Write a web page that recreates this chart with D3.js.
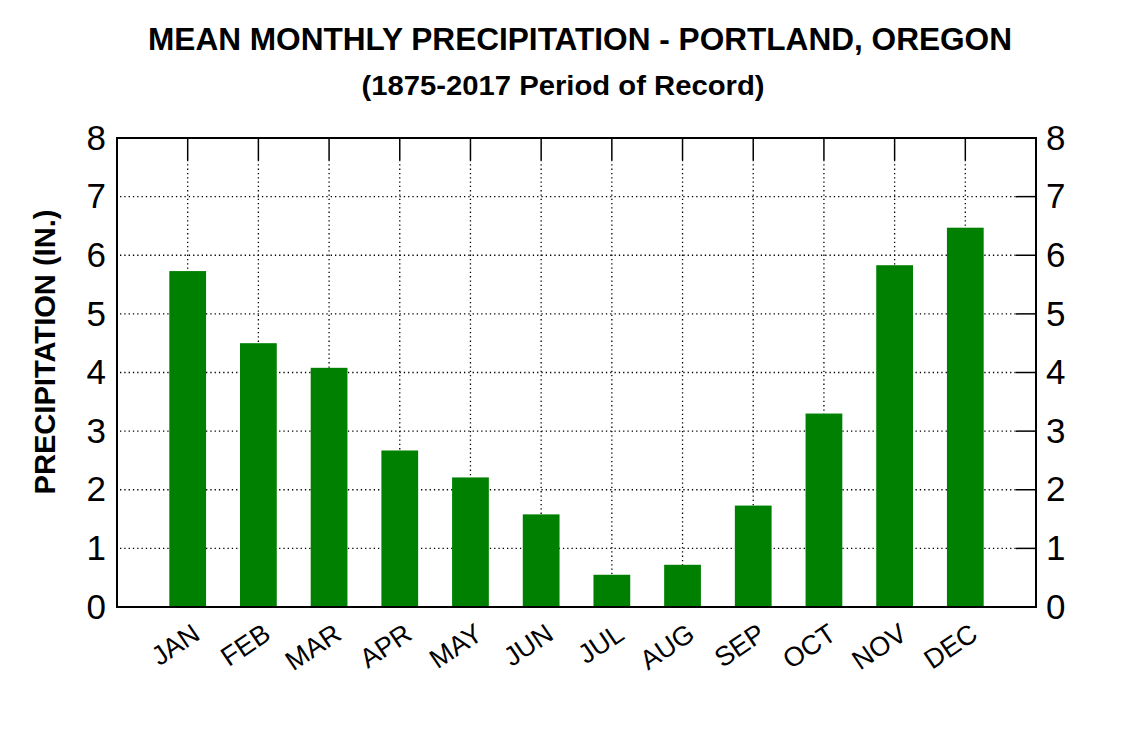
<!DOCTYPE html>
<html>
<head>
<meta charset="utf-8">
<script src="https://cdn.jsdelivr.net/npm/d3@7"></script>
<style>
html,body{margin:0;padding:0;background:#fff;}
svg{display:block;font-family:"Liberation Sans",Arial,sans-serif;}
</style>
</head>
<body>
<svg id="chart" width="1124" height="732"></svg>
<script>
const months = ["JAN","FEB","MAR","APR","MAY","JUN","JUL","AUG","SEP","OCT","NOV","DEC"];
const precip = [5.73,4.50,4.08,2.67,2.21,1.58,0.55,0.72,1.73,3.30,5.83,6.47];
const yTicks = [0,1,2,3,4,5,6,7,8];
const titleText = "MEAN MONTHLY PRECIPITATION - PORTLAND, OREGON";
const subtitleText = "(1875-2017 Period of Record)";
const yLabel = "PRECIPITATION (IN.)";

const svg = d3.select("#chart");
const L = 117, R = 1036, T = 138, B = 607;

const x = d3.scalePoint().domain(months).range([L, R]).padding(1);
const y = d3.scaleLinear().domain([0, 8]).range([B, T]);
const barW = x.step() * 0.52;

// grid: horizontal dotted
const g = svg.append("g");
g.selectAll(".hg").data(yTicks.filter(d => d > 0 && d < 8)).join("line")
  .attr("x1", L + 3).attr("x2", R - 20)
  .attr("y1", d => y(d)).attr("y2", d => y(d))
  .attr("stroke", "#000").attr("stroke-width", 1.3).attr("stroke-dasharray", "1.3,3");
// right solid ticks
g.selectAll(".rt").data(yTicks.filter(d => d > 0 && d < 8)).join("line")
  .attr("x1", R - 20).attr("x2", R)
  .attr("y1", d => y(d)).attr("y2", d => y(d))
  .attr("stroke", "#000").attr("stroke-width", 1.5);
// vertical dotted
g.selectAll(".vg").data(months).join("line")
  .attr("x1", d => x(d)).attr("x2", d => x(d))
  .attr("y1", T + 22).attr("y2", B)
  .attr("stroke", "#000").attr("stroke-width", 1.3).attr("stroke-dasharray", "1.3,3");
// top solid ticks
g.selectAll(".tt").data(months).join("line")
  .attr("x1", d => x(d)).attr("x2", d => x(d))
  .attr("y1", T).attr("y2", T + 22)
  .attr("stroke", "#000").attr("stroke-width", 1.5);

// bars
svg.append("g").selectAll("rect").data(months).join("rect")
  .attr("x", (d) => x(d) - barW / 2)
  .attr("width", barW)
  .attr("y", (d, i) => y(precip[i]))
  .attr("height", (d, i) => B - y(precip[i]))
  .attr("fill", "#008000");

// frame
svg.append("rect").attr("x", L).attr("y", T).attr("width", R - L).attr("height", B - T)
  .attr("fill", "none").attr("stroke", "#000").attr("stroke-width", 2);

// y axes via d3 axes (labels only)
const leftAxis = d3.axisLeft(y).tickValues(yTicks).tickSize(0).tickPadding(11).tickFormat(d3.format("d"));
const rightAxis = d3.axisRight(y).tickValues(yTicks).tickSize(0).tickPadding(10).tickFormat(d3.format("d"));
const la = svg.append("g").attr("transform", `translate(${L},0)`).call(leftAxis);
const ra = svg.append("g").attr("transform", `translate(${R},0)`).call(rightAxis);
[la, ra].forEach(a => {
  a.select(".domain").remove();
  a.selectAll("text").attr("font-size", 35).attr("fill", "#000")
    .attr("font-family", "Liberation Sans, Arial, sans-serif");
});

// x labels
const xa = svg.append("g");
xa.selectAll("text").data(months).join("text")
  .attr("transform", d => `translate(${x(d) + 14},${B + 31}) rotate(-34)`)
  .attr("text-anchor", "end")
  .attr("font-size", 27)
  .attr("fill", "#000")
  .text(d => d);

// titles
svg.append("text").attr("x", 580).attr("y", 50).attr("text-anchor", "middle")
  .attr("font-size", 32).attr("font-weight", "bold")
  .attr("textLength", 864).attr("lengthAdjust", "spacingAndGlyphs")
  .text(titleText);
svg.append("text").attr("x", 563).attr("y", 95).attr("text-anchor", "middle")
  .attr("font-size", 27).attr("font-weight", "bold")
  .attr("textLength", 403).attr("lengthAdjust", "spacingAndGlyphs")
  .text(subtitleText);
svg.append("text").attr("transform", "translate(55,352) rotate(-90)").attr("text-anchor", "middle")
  .attr("font-size", 29).attr("font-weight", "bold")
  .attr("textLength", 285).attr("lengthAdjust", "spacingAndGlyphs")
  .text(yLabel);
</script>
</body>
</html>
